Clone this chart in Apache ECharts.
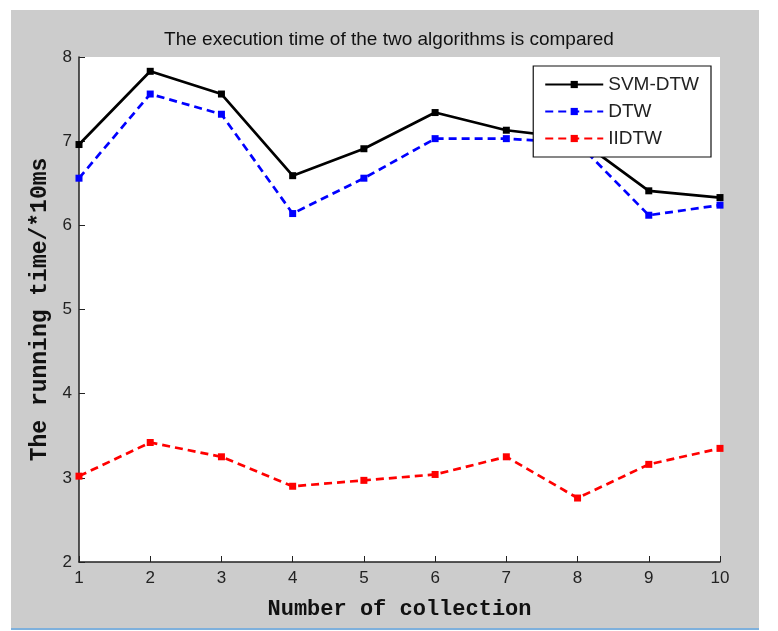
<!DOCTYPE html>
<html><head><meta charset="utf-8">
<script src="https://cdn.jsdelivr.net/npm/echarts@6/dist/echarts.min.js"></script>
<style>html,body{margin:0;padding:0;background:#fff}#c{width:778px;height:631px}</style>
</head><body><div id="c"></div>
<script>
var categories = [1, 2, 3, 4, 5, 6, 7, 8, 9, 10];
var svmDtw = [6.96, 7.83, 7.56, 6.59, 6.91, 7.34, 7.13, 7.03, 6.41, 6.33];
var dtw    = [6.56, 7.56, 7.32, 6.14, 6.56, 7.03, 7.03, 6.98, 6.12, 6.24];
var iidtw  = [3.02, 3.42, 3.25, 2.90, 2.97, 3.04, 3.25, 2.76, 3.16, 3.35];
var yTicks = [2, 3, 4, 5, 6, 7, 8];

function pairs(v){ return categories.map(function(c,i){ return [c, v[i]]; }); }
var chart = echarts.init(document.getElementById('c'));
var tickFont = {fontFamily:'Liberation Sans, Arial', fontSize:17, color:'#222'};
function mk(name, data, color, dashed){
  return {name:name, type:'line', data:pairs(data), symbol:'rect', symbolSize:7,
    lineStyle:{color:color, width:2.7, type: dashed ? [8,5] : 'solid'},
    itemStyle:{color:color}, z: dashed?2:3, animation:false};
}
chart.setOption({
  animation:false,
  graphic:[
    {type:'rect', shape:{x:11,y:10,width:748,height:618}, style:{fill:'#cccccc'}, z:-10, silent:true},
    {type:'rect', shape:{x:11,y:628,width:748,height:2}, style:{fill:'#7eb0dc'}, z:-10, silent:true}
  ],
  title:{text:'The execution time of the two algorithms is compared', left:'center', top:25,
    textStyle:{fontFamily:'Liberation Sans, Arial', fontSize:19, fontWeight:'normal', color:'#111'}},
  grid:{left:79, top:57, right:58, bottom:69, show:true, backgroundColor:'#fff', borderWidth:0},
  legend:{right:67, top:66, orient:'vertical', backgroundColor:'#fff', borderColor:'#111', borderWidth:1.2,
    padding:[9,12,9,11], itemGap:8, itemWidth:58, itemHeight:9,
    textStyle:{fontFamily:'Liberation Sans, Arial', fontSize:19, color:'#222'},
    data:['SVM-DTW','DTW','IIDTW']},
  xAxis:{type:'value', min:1, max:10, interval:1,
    name:'Number of collection', nameLocation:'middle', nameGap:36,
    nameTextStyle:{fontFamily:'Liberation Mono, Courier New, monospace', fontWeight:'bold', fontSize:22, color:'#111'},
    axisLine:{lineStyle:{color:'#222', width:1.5}}, axisTick:{inside:true, length:6, lineStyle:{color:'#222'}},
    axisLabel:Object.assign({margin:8}, tickFont), splitLine:{show:false}},
  yAxis:{type:'value', min:yTicks[0], max:yTicks[yTicks.length-1], interval:1,
    name:'The running time/*10ms', nameLocation:'middle', nameGap:24, nameRotate:90,
    nameTextStyle:{fontFamily:'Liberation Mono, Courier New, monospace', fontWeight:'bold', fontSize:23, color:'#111'},
    axisLine:{show:true, lineStyle:{color:'#222', width:1.5}}, axisTick:{show:true, inside:true, length:6, lineStyle:{color:'#222'}},
    axisLabel:Object.assign({margin:7}, tickFont), splitLine:{show:false}},
  series:[
    mk('SVM-DTW', svmDtw, '#000000', false),
    mk('DTW', dtw, '#0000ff', true),
    mk('IIDTW', iidtw, '#ff0000', true)
  ]
});
</script></body></html>
